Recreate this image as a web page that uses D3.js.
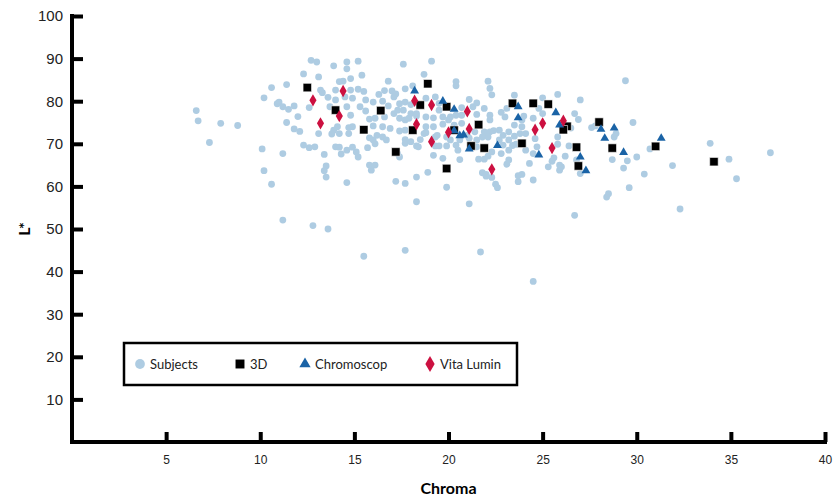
<!DOCTYPE html>
<html>
<head>
<meta charset="utf-8">
<script src="https://cdn.jsdelivr.net/npm/d3@7"></script>
<style>
  body { margin: 0; background: #fff; }
  svg { font-family: Lato, "Open Sans", sans-serif; }
  .axis path, .axis line { stroke: #000; stroke-width: 4; }
  .axis text { fill: #222; }
</style>
</head>
<body>
<svg id="chart" width="838" height="503"></svg>
<script>
// Subjects (Chroma, L*)
var subjects = [
  [6.6,77.8],[6.7,75.4],[7.3,70.3],[7.9,74.8],[8.8,74.3],[10.1,68.8],[10.2,63.7],[10.2,80.8],[10.6,83.2],[11.4,83.9],
  [10.9,79.4],[11.0,79.8],[11.2,78.7],[11.5,78.1],[11.8,78.9],[12.0,76.4],[12.6,78.5],[11.4,75.0],[11.8,73.5],[12.1,72.9],
  [13.1,72.4],[12.3,69.7],[12.6,69.1],[12.9,69.3],[11.2,67.7],[13.4,67.5],[13.5,64.8],[12.3,86.4],[12.7,89.6],[13.0,89.2],
  [13.1,85.7],[13.2,82.6],[13.3,82.0],[13.6,80.9],[13.7,78.7],[13.4,63.7],[13.5,62.2],[10.6,60.5],[11.2,52.1],[12.8,50.8],
  [13.6,50.0],[13.9,88.3],[14.6,89.2],[14.6,87.6],[15.2,89.4],[17.6,88.7],[15.4,86.1],[14.8,85.3],[14.2,84.6],[14.4,84.7],
  [16.8,84.7],[18.1,83.6],[17.7,82.9],[14.0,82.6],[14.8,82.6],[15.2,82.8],[15.5,82.3],[14.5,81.0],[14.9,80.7],[14.0,80.3],
  [16.3,81.6],[16.6,82.5],[17.0,82.4],[17.2,81.7],[17.1,81.0],[15.6,80.3],[16.0,79.8],[16.5,80.0],[16.8,78.9],[17.4,79.4],
  [17.7,79.8],[18.0,79.2],[14.6,78.7],[14.8,76.7],[15.3,78.7],[14.9,74.0],[14.7,73.8],[14.1,74.0],[13.9,73.2],[14.2,72.4],
  [13.8,72.3],[14.7,72.4],[14.0,69.3],[14.2,69.2],[14.9,69.2],[14.6,68.5],[15.1,68.1],[15.2,66.9],[14.3,67.6],[15.7,69.1],
  [15.8,71.4],[16.0,70.9],[16.2,72.0],[16.1,70.0],[16.5,71.6],[16.7,70.9],[16.5,74.0],[16.9,73.6],[16.0,74.2],[16.1,76.0],
  [15.8,75.8],[15.6,77.7],[16.6,76.3],[17.1,77.1],[17.3,77.9],[17.6,77.9],[17.4,76.0],[17.7,75.6],[17.9,76.0],[17.7,73.2],
  [17.4,73.0],[17.7,70.1],[18.0,70.5],[17.3,67.7],[17.4,66.9],[15.8,65.0],[16.1,65.0],[15.9,63.8],[18.3,69.5],[18.3,76.5],
  [14.6,60.9],[17.2,61.2],[17.7,60.7],[18.3,62.2],[18.9,63.3],[19.9,59.8],[18.3,56.4],[21.1,55.9],[17.7,45.0],[15.5,43.6],
  [21.7,44.6],[21.8,63.2],[22.0,62.4],[22.3,62.1],[22.5,60.5],[22.6,59.7],[23.7,61.1],[23.9,62.8],[23.7,62.5],[24.5,61.5],
  [25.9,63.8],[27.0,63.0],[29.6,59.7],[28.5,58.3],[28.4,57.5],[26.7,53.2],[24.5,37.7],[29.8,75.0],[30.7,68.8],[30.0,66.9],
  [30.4,62.9],[31.9,64.9],[32.3,54.7],[33.9,70.1],[34.9,66.4],[35.3,61.8],[37.1,67.9],[19.1,89.4],[18.7,86.3],[20.4,84.6],
  [20.4,83.6],[22.1,84.7],[22.2,83.0],[22.3,81.5],[21.1,80.4],[20.7,78.5],[21.3,78.7],[21.5,79.6],[21.9,78.3],[21.5,76.9],
  [22.2,76.7],[22.2,75.6],[22.8,77.4],[23.1,78.3],[23.5,81.4],[23.0,76.3],[23.2,72.8],[22.7,73.2],[22.4,73.1],[22.9,72.0],
  [23.2,70.9],[22.2,72.8],[22.1,71.6],[22.7,70.9],[23.5,74.4],[23.9,74.0],[24.1,72.4],[23.8,72.4],[23.5,71.8],[23.6,69.9],
  [23.4,69.6],[22.9,69.7],[23.2,68.5],[22.8,67.7],[22.3,68.1],[22.1,67.1],[21.6,66.4],[21.9,66.4],[20.6,66.3],[19.7,66.6],
  [19.2,67.3],[19.9,69.5],[20.5,68.5],[20.6,70.9],[20.1,70.9],[19.4,72.0],[18.8,72.6],[18.7,72.4],[18.5,71.0],[18.4,69.3],
  [22.0,62.8],[23.1,65.2],[23.2,66.2],[24.3,65.4],[25.3,64.6],[25.5,65.9],[25.6,66.7],[25.9,65.0],[26.0,64.6],[26.2,67.1],
  [25.8,69.9],[25.8,71.6],[26.4,69.5],[26.5,73.7],[26.7,77.1],[26.9,75.7],[27.0,80.3],[25.8,81.6],[25.0,80.8],[24.8,78.3],
  [25.0,77.1],[24.5,76.0],[24.0,76.5],[23.9,75.6],[24.6,71.2],[24.7,69.3],[24.1,68.5],[24.5,67.7],[26.8,66.2],[27.6,73.8],
  [27.8,74.2],[28.7,66.3],[29.4,84.8],[28.9,72.4],[28.8,71.6],[29.3,64.3],[29.5,66.0],[18.0,77.1],[18.3,77.1],[18.8,80.7],
  [19.3,81.0],[19.5,79.5],[19.5,77.9],[18.8,76.3],[19.2,76.1],[19.7,76.3],[20.1,76.3],[20.0,75.6],[20.4,76.7],[20.7,76.7],
  [20.7,74.8],[20.3,74.4],[19.7,74.6],[19.2,74.0],[18.8,74.0],[19.3,71.6],[19.9,71.6],[21.0,72.0],[21.1,71.3],[21.4,72.8],
  [21.9,72.8],[21.8,71.6],[21.5,70.9],[17.7,71.0],[19.3,69.5],[19.5,69.5],[20.4,69.7],[21.5,69.3]
];

var shade3D = [
  [12.5,83.2],[14.0,77.9],[15.5,73.3],[16.4,77.8],[17.2,68.1],[18.1,73.2],[18.5,79.1],[18.9,84.1],[19.9,78.7],[19.9,64.2],
  [20.3,73.2],[21.2,69.5],[21.6,74.5],[21.9,69.0],[23.4,79.5],[23.9,70.1],[24.5,79.5],[25.3,79.3],[26.3,74.1],[26.1,73.3],
  [26.8,69.2],[26.9,64.8],[28.0,75.1],[28.7,69.0],[31.0,69.4],[34.1,65.8]
];

var chromoscop = [
  [18.2,82.4],[19.7,80.0],[20.3,78.1],[20.3,73.1],[20.6,71.9],[20.8,72.1],[21.1,68.8],[22.6,69.6],[23.7,78.7],[23.7,76.1],
  [25.7,77.3],[25.9,74.4],[24.8,67.4],[27.0,66.9],[27.3,63.7],[28.1,73.4],[28.3,71.3],[28.8,73.7],[29.3,68.0],[31.3,71.3]
];

var vitaLumin = [
  [12.8,80.2],[14.4,82.4],[13.2,74.8],[14.2,76.5],[18.2,80.1],[18.3,74.6],[19.1,79.1],[19.1,70.5],[20.0,72.7],[21.0,77.6],
  [21.1,73.5],[22.3,64.0],[24.6,73.3],[25.0,74.8],[26.1,75.4],[25.5,69.0]
];

var xTicks = [5, 10, 15, 20, 25, 30, 35, 40];
var yTicks = [10, 20, 30, 40, 50, 60, 70, 80, 90, 100];
var seriesNames = ["Subjects", "3D", "Chromoscop", "Vita Lumin"];
var seriesColors = ["#aecce2", "#000000", "#1a63a6", "#cc1040"];

var svg = d3.select("#chart");
var margin = {left: 72, top: 16, right: 13, bottom: 61};
var width = 838 - margin.left - margin.right;
var height = 503 - margin.top - margin.bottom;

var g = svg.append("g").attr("transform", "translate(" + margin.left + "," + margin.top + ")");

var x = d3.scaleLinear().domain([0, 40]).range([0, width]);
var y = d3.scaleLinear().domain([0, 100]).range([height, 0]);

var xAxis = g.append("g")
  .attr("class", "axis")
  .attr("transform", "translate(0," + height + ")")
  .call(d3.axisBottom(x).tickValues(xTicks).tickSize(-10).tickSizeOuter(0).tickPadding(13));
xAxis.selectAll("text").style("font-size", "12px");
xAxis.select(".domain").attr("d", "M-2,0H" + (width + 2));

var yAxis = g.append("g")
  .attr("class", "axis")
  .call(d3.axisLeft(y).tickValues(yTicks).tickSize(-11).tickSizeOuter(0).tickPadding(9));
yAxis.selectAll("text").style("font-size", "15px");
yAxis.select(".domain").attr("d", "M0," + (height + 2) + "V-2");

// axis titles
svg.append("text")
  .attr("x", margin.left + x(20))
  .attr("y", 494)
  .attr("text-anchor", "middle")
  .style("font-size", "16px")
  .style("font-weight", "bold")
  .text("Chroma");

svg.append("text")
  .attr("transform", "translate(30," + (margin.top + y(50)) + ") rotate(-90)")
  .attr("text-anchor", "middle")
  .style("font-size", "16px")
  .style("font-weight", "bold")
  .text("L*");

// marks
g.append("g").selectAll("circle")
  .data(subjects)
  .enter().append("circle")
  .attr("cx", d => x(d[0]))
  .attr("cy", d => y(d[1]))
  .attr("r", 3.4)
  .attr("fill", seriesColors[0]);

var sq = d3.symbol().type(d3.symbolSquare).size(72);
var tri = d3.symbol().type(d3.symbolTriangle).size(34);
var dia = d3.symbol().type(d3.symbolDiamond).size(44);

g.append("g").selectAll("path")
  .data(shade3D)
  .enter().append("path")
  .attr("d", sq)
  .attr("transform", d => "translate(" + x(d[0]) + "," + y(d[1]) + ")")
  .attr("fill", seriesColors[1])
  .attr("stroke", "#fff").attr("stroke-width", 0.6);

g.append("g").selectAll("path")
  .data(chromoscop)
  .enter().append("path")
  .attr("d", tri)
  .attr("transform", d => "translate(" + x(d[0]) + "," + y(d[1]) + ")")
  .attr("fill", seriesColors[2]);

g.append("g").selectAll("path")
  .data(vitaLumin)
  .enter().append("path")
  .attr("d", dia)
  .attr("transform", d => "translate(" + x(d[0]) + "," + y(d[1]) + ")")
  .attr("fill", seriesColors[3]);

// legend
var legend = svg.append("g").attr("transform", "translate(124,343)");
legend.append("rect")
  .attr("width", 393).attr("height", 42)
  .attr("fill", "#fff").attr("stroke", "#000").attr("stroke-width", 2.5);

var legendX = [16, 116, 181, 306];
var legendSymbols = [
  d3.symbol().type(d3.symbolCircle).size(75),
  d3.symbol().type(d3.symbolSquare).size(80),
  d3.symbol().type(d3.symbolTriangle).size(55),
  d3.symbol().type(d3.symbolDiamond).size(75)
];

seriesNames.forEach(function(name, i) {
  var item = legend.append("g").attr("transform", "translate(" + legendX[i] + ",21)");
  item.append("path").attr("d", legendSymbols[i]).attr("fill", seriesColors[i]);
  item.append("text")
    .attr("x", 10).attr("y", 5)
    .style("font-size", "13px")
    .attr("fill", "#222")
    .text(name);
});
</script>
</body>
</html>
